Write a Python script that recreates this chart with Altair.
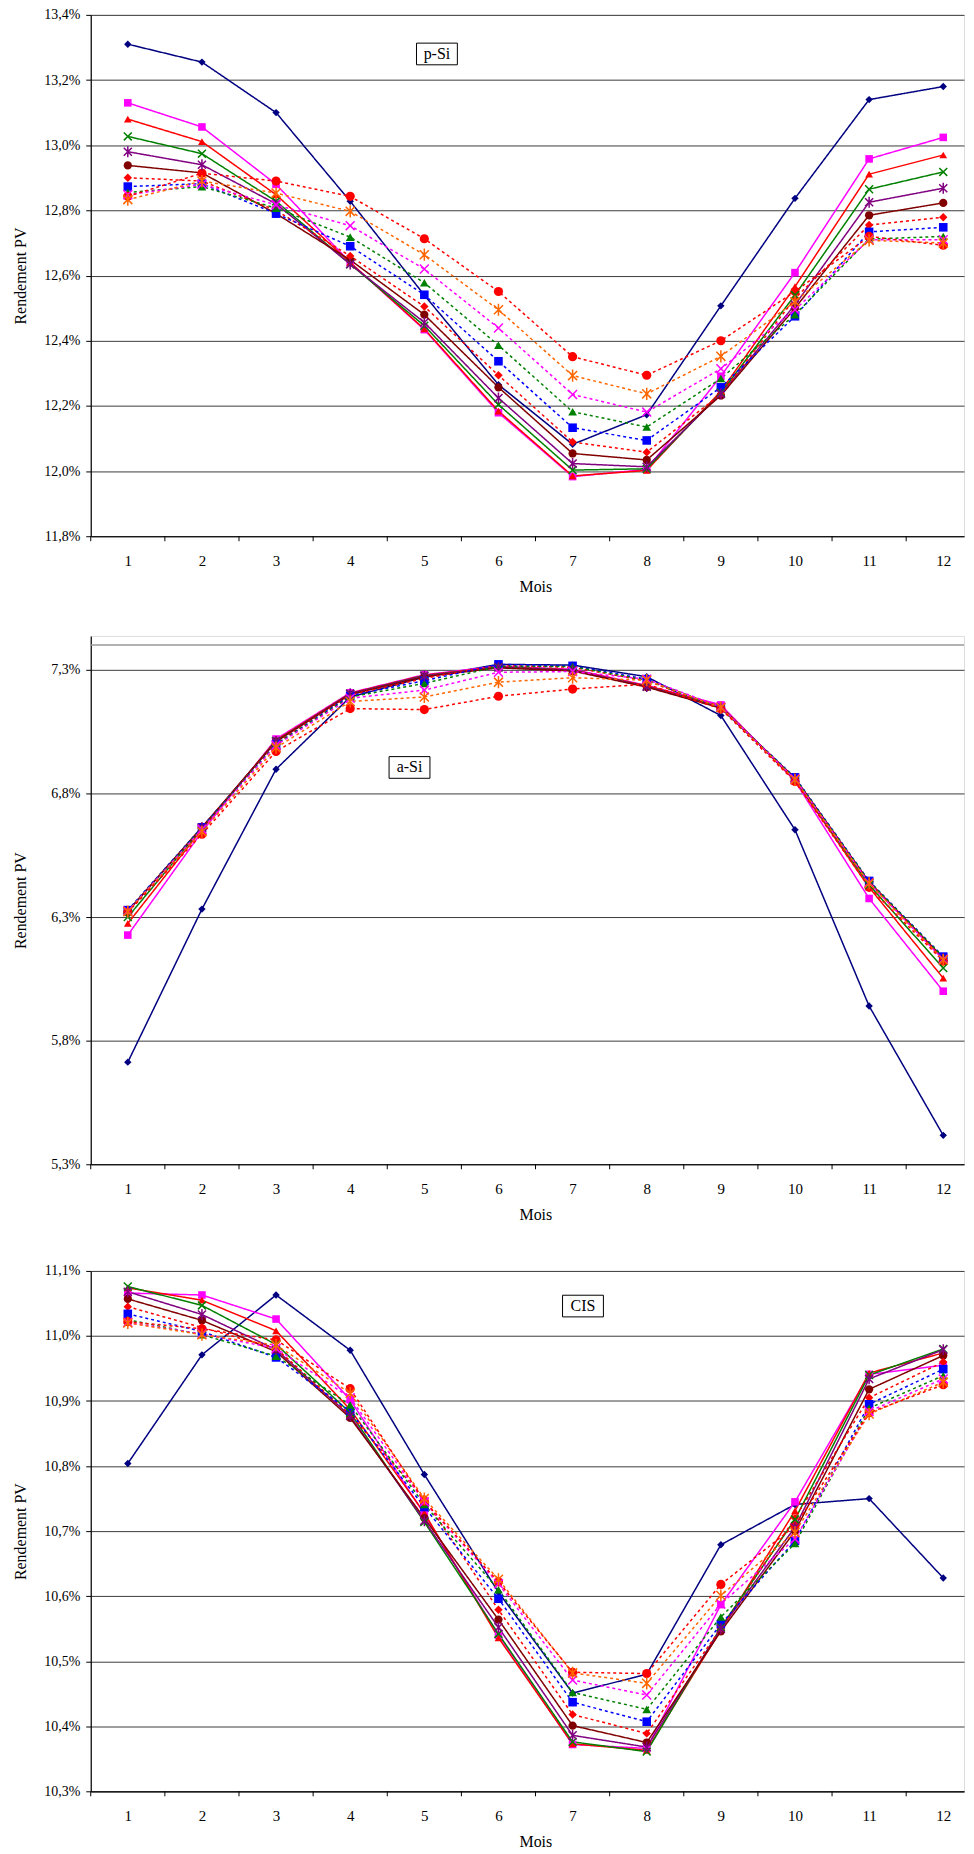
import altair as alt
import pandas as pd

MONTHS = list(range(1, 13))
TICK_EDGES = [0.5 + i for i in range(12)]

SERIES = ["s01", "s02", "s03", "s04", "s05", "s06", "s07", "s08", "s09", "s10", "s11", "s12"]
COLORS = ["#000080", "#FF00FF", "#FF0000", "#008000", "#800080", "#800000",
          "#FF0000", "#0000FF", "#008000", "#FF00FF", "#FF6600", "#FF0000"]
X_PATH = "M-1,-1L1,1M-1,1L1,-1"
STAR_PATH = "M-1,-1L1,1M-1,1L1,-1M0,-1.35L0,1.35"
SHAPES = ["diamond", "square", "triangle-up", X_PATH, STAR_PATH, "circle",
          "diamond", "square", "triangle-up", X_PATH, STAR_PATH, "circle"]
FILLED = [True, True, True, False, False, True, True, True, True, False, False, True]
DASHES = [[1, 0]] * 6 + [[3, 3]] * 6
SIZES = [55, 85, 90, 75, 75, 90, 70, 85, 90, 75, 75, 95]

# ---- p-Si ----
psi_s01 = [13.31, 13.255, 13.10, 12.828, 12.54, 12.265, 12.082, 12.173, 12.507, 12.837, 13.14, 13.18]
psi_s02 = [13.13, 13.056, 12.88, 12.64, 12.434, 12.179, 11.983, 12.005, 12.291, 12.609, 12.958, 13.024]
psi_s03 = [13.08, 13.011, 12.848, 12.64, 12.436, 12.184, 11.985, 12.002, 12.245, 12.566, 12.911, 12.97]
psi_s04 = [13.027, 12.974, 12.828, 12.635, 12.446, 12.204, 12.003, 12.007, 12.24, 12.54, 12.865, 12.918]
psi_s05 = [12.98, 12.94, 12.82, 12.635, 12.456, 12.224, 12.023, 12.013, 12.237, 12.51, 12.825, 12.868]
psi_s06 = [12.938, 12.915, 12.79, 12.648, 12.48, 12.257, 12.054, 12.034, 12.232, 12.50, 12.785, 12.823]
psi_s07 = [12.90, 12.89, 12.80, 12.66, 12.505, 12.294, 12.089, 12.058, 12.236, 12.53, 12.755, 12.779]
psi_s08 = [12.873, 12.882, 12.79, 12.69, 12.541, 12.337, 12.133, 12.094, 12.257, 12.475, 12.734, 12.748]
psi_s09 = [12.855, 12.873, 12.807, 12.718, 12.578, 12.386, 12.182, 12.135, 12.284, 12.48, 12.712, 12.72]
psi_s10 = [12.848, 12.88, 12.817, 12.753, 12.62, 12.439, 12.235, 12.181, 12.314, 12.495, 12.71, 12.71]
psi_s11 = [12.833, 12.89, 12.853, 12.797, 12.664, 12.495, 12.293, 12.237, 12.352, 12.52, 12.708, 12.70]
psi_s12 = [12.843, 12.914, 12.89, 12.843, 12.713, 12.551, 12.351, 12.294, 12.40, 12.551, 12.72, 12.693]

# ---- a-Si ----
asi_s01 = [5.713, 6.332, 6.898, 7.19, 7.27, 7.322, 7.319, 7.272, 7.115, 6.653, 5.94, 5.417]
asi_s02 = [6.227, 6.645, 7.02, 7.207, 7.28, 7.315, 7.302, 7.237, 7.158, 6.85, 6.375, 6.0]
asi_s03 = [6.274, 6.655, 7.015, 7.205, 7.278, 7.312, 7.30, 7.235, 7.153, 6.853, 6.42, 6.053]
asi_s04 = [6.30, 6.66, 7.012, 7.203, 7.276, 7.31, 7.298, 7.232, 7.15, 6.857, 6.43, 6.094]
asi_s05 = [6.322, 6.662, 7.01, 7.203, 7.275, 7.31, 7.298, 7.232, 7.148, 6.86, 6.44, 6.132]
asi_s06 = [6.325, 6.663, 7.01, 7.20, 7.272, 7.308, 7.295, 7.23, 7.145, 6.862, 6.442, 6.135]
asi_s07 = [6.324, 6.662, 7.005, 7.198, 7.265, 7.318, 7.31, 7.255, 7.147, 6.86, 6.44, 6.13]
asi_s08 = [6.328, 6.663, 7.00, 7.195, 7.256, 7.322, 7.316, 7.262, 7.145, 6.865, 6.446, 6.14]
asi_s09 = [6.325, 6.66, 7.00, 7.19, 7.245, 7.314, 7.313, 7.258, 7.145, 6.862, 6.444, 6.138]
asi_s10 = [6.324, 6.655, 6.995, 7.185, 7.218, 7.29, 7.293, 7.262, 7.15, 6.858, 6.438, 6.128]
asi_s11 = [6.322, 6.645, 6.985, 7.172, 7.19, 7.25, 7.268, 7.258, 7.147, 6.855, 6.436, 6.126]
asi_s12 = [6.319, 6.635, 6.97, 7.143, 7.139, 7.193, 7.222, 7.242, 7.142, 6.848, 6.42, 6.122]

# ---- CIS ----
cis_s01 = [10.804, 10.971, 11.063, 10.978, 10.787, 10.606, 10.451, 10.48, 10.679, 10.741, 10.75, 10.628]
cis_s02 = [11.066, 11.063, 11.026, 10.902, 10.726, 10.54, 10.372, 10.366, 10.587, 10.745, 10.941, 10.955]
cis_s03 = [11.074, 11.055, 11.008, 10.887, 10.728, 10.536, 10.373, 10.363, 10.548, 10.731, 10.943, 10.974]
cis_s04 = [11.076, 11.047, 10.987, 10.882, 10.714, 10.542, 10.376, 10.361, 10.552, 10.718, 10.94, 10.98]
cis_s05 = [11.068, 11.033, 10.979, 10.877, 10.716, 10.552, 10.386, 10.368, 10.55, 10.706, 10.934, 10.979]
cis_s06 = [11.057, 11.024, 10.976, 10.874, 10.72, 10.564, 10.401, 10.375, 10.546, 10.70, 10.918, 10.97]
cis_s07 = [11.045, 11.013, 10.981, 10.879, 10.75, 10.579, 10.418, 10.389, 10.55, 10.72, 10.905, 10.96]
cis_s08 = [11.034, 11.007, 10.967, 10.884, 10.737, 10.596, 10.437, 10.407, 10.557, 10.685, 10.895, 10.949]
cis_s09 = [11.025, 11.002, 10.969, 10.894, 10.741, 10.61, 10.452, 10.426, 10.568, 10.681, 10.889, 10.939]
cis_s10 = [11.021, 11.003, 10.981, 10.905, 10.745, 10.619, 10.471, 10.448, 10.588, 10.688, 10.884, 10.934]
cis_s11 = [11.02, 11.002, 10.986, 10.912, 10.75, 10.626, 10.482, 10.466, 10.601, 10.698, 10.88, 10.929]
cis_s12 = [11.022, 11.011, 10.994, 10.919, 10.746, 10.622, 10.483, 10.481, 10.618, 10.708, 10.882, 10.925]

PSI = [psi_s01, psi_s02, psi_s03, psi_s04, psi_s05, psi_s06, psi_s07, psi_s08, psi_s09, psi_s10, psi_s11, psi_s12]
ASI = [asi_s01, asi_s02, asi_s03, asi_s04, asi_s05, asi_s06, asi_s07, asi_s08, asi_s09, asi_s10, asi_s11, asi_s12]
CIS = [cis_s01, cis_s02, cis_s03, cis_s04, cis_s05, cis_s06, cis_s07, cis_s08, cis_s09, cis_s10, cis_s11, cis_s12]

PSI_TICKS = [11.8, 12.0, 12.2, 12.4, 12.6, 12.8, 13.0, 13.2, 13.4]
ASI_TICKS = [5.3, 5.8, 6.3, 6.8, 7.3]
CIS_TICKS = [10.3, 10.4, 10.5, 10.6, 10.7, 10.8, 10.9, 11.0, 11.1]

LABELS = ["p-Si", "a-Si", "CIS"]
LABEL_MONTH = [5.17, 4.8, 7.14]
LABEL_VALUE = [13.28, 6.905, 11.046]

FONT = "Liberation Serif"
BOX_PATH = "M-1,-0.53L1,-0.53L1,0.53L-1,0.53Z"
W = 876


def build_df(values):
    rows = []
    for i, s in enumerate(SERIES):
        for m, v in zip(MONTHS, values[i]):
            rows.append({"series": s, "month": m, "value": v, "filled": FILLED[i]})
    return pd.DataFrame(rows)


def panel(values, ydomain, yticks, height, idx, top_rule=None):
    df = build_df(values)
    xscale = alt.Scale(domain=[0.5, 12.28], nice=False, zero=False)
    yscale = alt.Scale(domain=ydomain, nice=False, zero=False)
    xaxis = alt.Axis(values=MONTHS, ticks=False, grid=False, domain=True, domainColor="black",
                     domainWidth=1.2, labelPadding=17, labelFontSize=15, labelFont=FONT,
                     labelColor="black", labelFlush=False, title="Mois", titleFont=FONT,
                     titleFontSize=16, titleFontWeight="normal", titleColor="black",
                     titleX=446, titleY=50, titleBaseline="middle", titleAlign="center")
    yaxis = alt.Axis(values=yticks, labelExpr="replace(format(datum.value, '.1f'), '.', ',') + '%'",
                     tickSize=5, tickColor="black", domainColor="black", domainWidth=1.2,
                     grid=True, gridColor="#3c3c3c", gridWidth=1, labelPadding=6,
                     labelFontSize=14, labelFont=FONT, labelColor="black",
                     title="Rendement PV", titleFont=FONT, titleFontSize=16,
                     titleFontWeight="normal", titleColor="black", titleX=-70,
                     titleY=height / 2, titleAngle=270, titleAlign="center",
                     titleBaseline="middle")
    X = alt.X("month:Q", scale=xscale, axis=xaxis)
    Y = alt.Y("value:Q", scale=yscale, axis=yaxis)
    color = alt.Color("series:N", scale=alt.Scale(domain=SERIES, range=COLORS), legend=None)
    dash = alt.StrokeDash("series:N", scale=alt.Scale(domain=SERIES, range=DASHES), legend=None)
    shape = alt.Shape("series:N", scale=alt.Scale(domain=SERIES, range=SHAPES), legend=None)
    size = alt.Size("series:N", scale=alt.Scale(domain=SERIES, range=SIZES), legend=None)

    base = alt.Chart(df)
    layers = []
    if top_rule is not None:
        layers.append(alt.Chart(pd.DataFrame({"value": [top_rule]})).mark_rule(
            color="#999999", strokeWidth=1.5).encode(y=Y))
    lines = base.mark_line(strokeWidth=1.5).encode(x=X, y=Y, color=color, strokeDash=dash,
                                                   order="month:Q")
    pts_f = base.transform_filter("datum.filled").mark_point(filled=True, opacity=1).encode(
        x=X, y=Y, color=color, shape=shape, size=size)
    pts_o = base.transform_filter("!datum.filled").mark_point(
        filled=False, opacity=1, strokeWidth=1.5).encode(
        x=X, y=Y, color=color, shape=shape, size=size)
    ticks = alt.Chart(pd.DataFrame({"month": TICK_EDGES})).mark_rule(
        color="black", strokeWidth=1).encode(
        x=X, y=alt.value(height), y2=alt.value(height + 5))
    lab_df = pd.DataFrame({"month": [LABEL_MONTH[idx]], "value": [LABEL_VALUE[idx]],
                           "label": [LABELS[idx]]})
    box = alt.Chart(lab_df).mark_point(shape=BOX_PATH, size=1681, filled=True, fill="white",
                                       stroke="black", strokeWidth=1, opacity=1).encode(x=X, y=Y)
    txt = alt.Chart(lab_df).mark_text(font=FONT, fontSize=16, color="black").encode(
        x=X, y=Y, text="label:N")
    layers += [lines, pts_f, pts_o, ticks, box, txt]
    return alt.layer(*layers).properties(width=W, height=height)


p1 = panel(PSI, [11.8, 13.4], PSI_TICKS, 523, 0)
p2 = panel(ASI, [5.3, 7.437], ASI_TICKS, 530, 1, top_rule=7.4)
p3 = panel(CIS, [10.3, 11.1], CIS_TICKS, 522, 2)

chart = alt.vconcat(p1, p2, p3, spacing=40).properties(
    padding={"left": 4, "top": -4, "right": 0, "bottom": 0}
).configure_view(stroke=None).configure(background="white")

chart.save("out.html", embed_options={"renderer": "svg", "actions": False})
